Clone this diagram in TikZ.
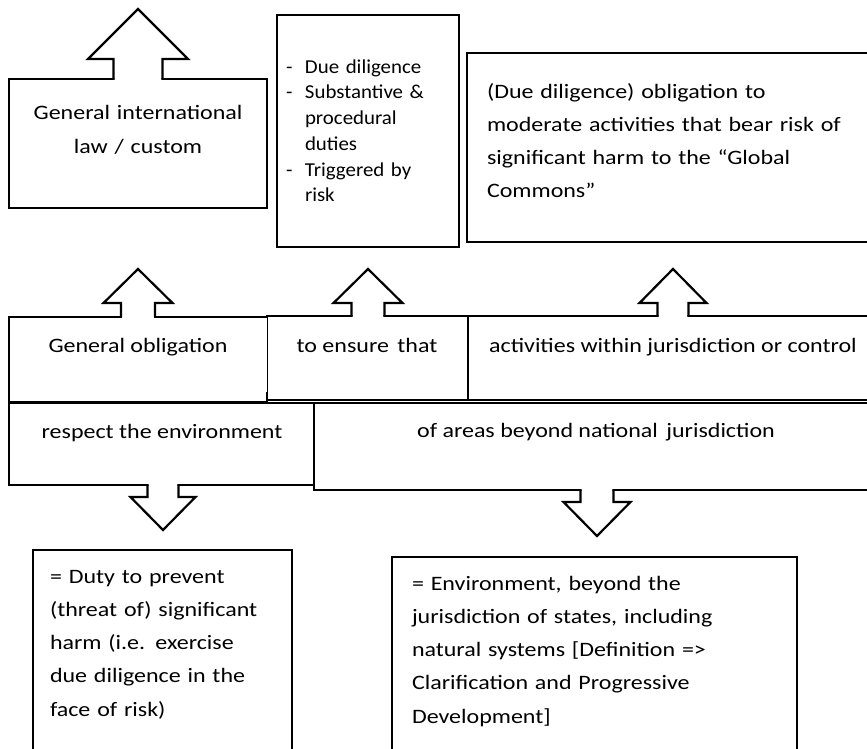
\documentclass[tikz,border=0pt]{standalone}
\usepackage{fontspec}
\setmainfont{Carlito}[FakeStretch=1.17]
\newfontfamily\listfont{Carlito}[FakeStretch=1.06]
\tikzset{
  box/.style={draw, line width=2.2pt, fill=white, inner sep=0pt, outer sep=0pt, anchor=north west},
  txt/.style={inner sep=0pt, outer sep=0pt, font=\fontsize{20.5}{34}\selectfont},
  arr/.style={draw, line width=2.2pt, line join=miter},
}
% cx, base y, neck y, apex y, half shaft, half head
\newcommand{\blockarrow}[6]{%
  \fill[white] ({#1-#5+1.1},{#2+2.5*(#2-#3)/abs(#2-#3)}) -- ({#1-#5+1.1},{#3}) -- ({#1-#6},{#3}) -- (#1,#4)
     -- ({#1+#6},{#3}) -- ({#1+#5-1.1},{#3}) -- ({#1+#5-1.1},{#2+2.5*(#2-#3)/abs(#2-#3)}) -- cycle;
  \draw[arr] ({#1-#5},{#2}) -- ({#1-#5},{#3}) -- ({#1-#6},{#3}) -- (#1,#4)
     -- ({#1+#6},{#3}) -- ({#1+#5},{#3}) -- ({#1+#5},{#2});
}
\begin{document}
\begin{tikzpicture}[x=1pt,y=-1pt]
\useasboundingbox (0,0) rectangle (867,749);
\clip (0,0) rectangle (867,749);
\fill[white] (0,0) rectangle (867,749);

% boxes
\node[box, minimum width=258pt, minimum height=129pt] (b1) at (9,79) {};
\node[box, minimum width=182pt, minimum height=232pt] (b2) at (277,15) {};
\node[box, minimum width=403pt, minimum height=189pt] (b3) at (467,53) {};
\node[box, minimum width=258pt, minimum height=85pt] (r1a) at (9,317) {};
\node[box, minimum width=201pt, minimum height=84pt] (r1b) at (267,316) {};
\node[box, minimum width=402pt, minimum height=84pt] (r1c) at (468,316) {};
\node[box, minimum width=305pt, minimum height=82pt] (r2a) at (9,403) {};
\node[box, minimum width=556pt, minimum height=87pt] (r2b) at (314,403) {};
\node[box, minimum width=259pt, minimum height=220pt] (d1) at (33,550) {};
\node[box, minimum width=405pt, minimum height=213pt] (d2) at (392,557) {};
% thin divider between "General obligation" and "to ensure that"
\draw[white, line width=2.4pt] ([yshift=-2pt]r1b.north west) -- ([yshift=8pt]r1b.south west);
\draw[line width=0.9pt] ([yshift=-1pt]r1b.north west) -- ([yshift=8pt]r1b.south west);

% block arrows
\blockarrow{138}{79}{59}{9}{24.5}{50}
\blockarrow{138}{317}{303}{269}{17}{34.5}
\blockarrow{368}{316}{303}{269}{16.5}{34.5}
\blockarrow{673}{316}{303}{269}{15.5}{33.5}
\blockarrow{163}{485}{497}{530}{15.5}{32.5}
\blockarrow{597}{490}{502}{536}{16.5}{33.5}

% texts
\node[txt, anchor=base, text width=258pt, align=center] (t1) at (138,120)
  {General international\\law / custom};
\node[txt, anchor=base west, text width=260pt, align=left,
      font=\listfont\fontsize{19.7}{25.7}\selectfont] (t2) at (286,73.3)
  {\makebox[19pt][l]{-}Due diligence\\
   \makebox[19pt][l]{-}Substantive \&\\
   \hspace*{19pt}procedural\\
   \hspace*{19pt}duties\\
   \makebox[19pt][l]{-}Triggered by\\
   \hspace*{19pt}risk};
\node[txt, anchor=base west, text width=480pt, align=left,
      font=\fontsize{20.5}{33}\selectfont] (t3) at (487,99)
  {(Due diligence) obligation to\\
   moderate activities that bear risk of\\
   significant harm to the “Global\\
   Commons”};
\node[txt, anchor=base] (t4) at (138,352) {General obligation};
\node[txt, anchor=base] (t5) at (367,352) {to ensure\hspace{3pt} that};
\node[txt, anchor=base] (t6) at (673,352) {activities within jurisdiction or control};
\node[txt, anchor=base] (t7) at (162,438) {respect the environment};
\node[txt, anchor=base] (t8) at (596,437) {of areas beyond national\hspace{3pt} jurisdiction};
\node[txt, anchor=base west, text width=340pt, align=left,
      font=\fontsize{20.5}{33.3}\selectfont] (t9) at (50,583)
  {= Duty to prevent\\
   (threat of) significant\\
   harm (i.e. exercise\\
   due diligence in the\\
   face of risk)};
\node[txt, anchor=base west, text width=450pt, align=left,
      font=\fontsize{20.5}{33.3}\selectfont] (t10) at (412,590)
  {= Environment, beyond the\\
   jurisdiction of states, including\\
   natural systems [Definition =>\\
   Clarification and Progressive\\
   Development]};
\end{tikzpicture}
\end{document}
